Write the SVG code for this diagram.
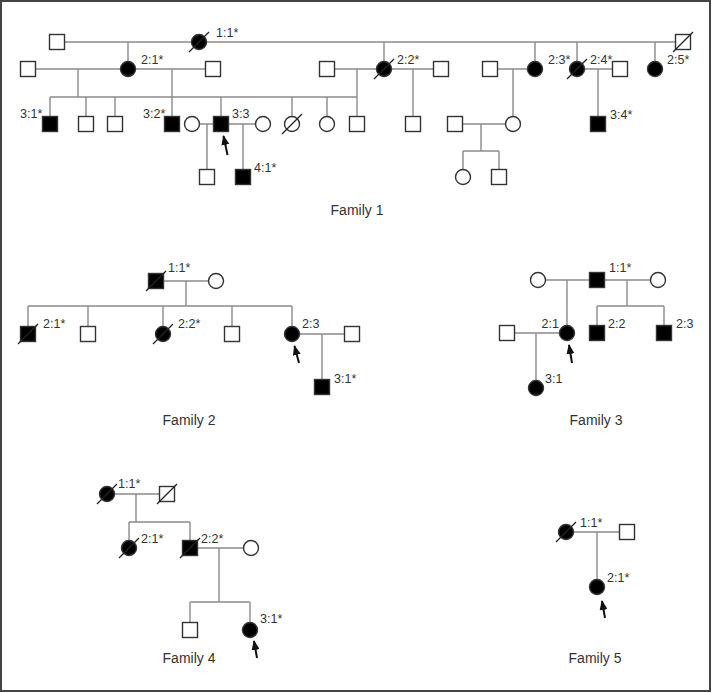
<svg xmlns="http://www.w3.org/2000/svg" width="712" height="693" viewBox="0 0 712 693">
<style>
.ln{stroke:#8c8c8c;stroke-width:1.4;fill:none}
.s{stroke:#333;stroke-width:1.4}
.a{fill:#000}
.u{fill:#fff}
.sl{stroke:#222;stroke-width:1.2}
.ar{stroke:#111;stroke-width:2;fill:none}
text{font-family:"Liberation Sans",Arial,sans-serif;font-size:12.5px;fill:#333}
.fam{font-size:14px;text-anchor:middle}
</style>
<defs>
<marker id="ah" markerUnits="userSpaceOnUse" markerWidth="10" markerHeight="8" refX="9" refY="4" orient="auto">
<path d="M0,0 L10,4 L0,8 z" fill="#111"/>
</marker>
</defs>
<rect x="1" y="1" width="709" height="690" fill="#fff" stroke="#444" stroke-width="2"/>

<g id="connectors">
<!-- Family 1 -->
<path class="ln" d="M64,42 H676 M128,42 V61 M384,42 V61 M535,42 V61 M577,42 V61 M655,42 V61"/>
<path class="ln" d="M28,69 H213 M78,69 V97 M172,69 V117 M50,97 H357 M50,97 V117 M86,97 V117 M115,97 V117 M221,97 V117 M292,97 V117 M327,97 V117 M357,97 V117"/>
<path class="ln" d="M327,69 H441 M357,69 V97 M413,69 V117 M490,69 H535 M513,69 V117 M577,69 H620 M598,69 V117"/>
<path class="ln" d="M192,124 H263 M207,124 V170 M243,124 V170 M455,124 H513 M481,124 V151 M463,151 H499 M463,151 V170 M499,151 V170"/>
<!-- Family 2 -->
<path class="ln" d="M156,281 H216 M186,281 V306 M28,306 H292 M28,306 V327 M88,306 V327 M163,306 V327 M232,306 V327 M292,306 V327 M292,334 H352 M322,334 V380"/>
<!-- Family 3 -->
<path class="ln" d="M538,280 H658 M567,280 V326 M627,280 V306 M597,306 H664 M597,306 V326 M664,306 V326 M507,333 H567 M536,333 V381"/>
<!-- Family 4 -->
<path class="ln" d="M107,494 H167 M136,494 V522 M129,522 H190 M129,522 V541 M190,522 V541 M190,548 H251 M219,548 V602 M190,602 H250 M190,602 V623 M250,602 V623"/>
<!-- Family 5 -->
<path class="ln" d="M566,532 H627 M597,532 V580"/>
<!-- proband arrows -->
<line class="ar" x1="227.5" y1="155" x2="223.5" y2="136" marker-end="url(#ah)"/>
<line class="ar" x1="299" y1="363" x2="294.5" y2="346" marker-end="url(#ah)"/>
<line class="ar" x1="572" y1="363" x2="569" y2="345" marker-end="url(#ah)"/>
<line class="ar" x1="257" y1="658" x2="254" y2="641" marker-end="url(#ah)"/>
<line class="ar" x1="605" y1="618" x2="602" y2="601" marker-end="url(#ah)"/>
</g>

<!-- ========== Family 1 ========== -->
<g id="f1-I-a"><rect class="s u" x="49.5" y="34.5" width="15" height="15"/></g>
<g id="f1-1-1"><circle class="s a" cx="199" cy="42" r="7.5"/><line class="sl" x1="189" y1="52" x2="209" y2="32"/><text x="216" y="37">1:1*</text></g>
<g id="f1-2-5m"><rect class="s u" x="675.5" y="34.5" width="15" height="15"/><line class="sl" x1="673" y1="52" x2="693" y2="32"/></g>

<g id="f1-II-a"><rect class="s u" x="20.5" y="61.5" width="15" height="15"/></g>
<g id="f1-2-1"><circle class="s a" cx="128" cy="69" r="7.5"/><text x="141" y="64">2:1*</text></g>
<g id="f1-II-b"><rect class="s u" x="205.5" y="61.5" width="15" height="15"/></g>
<g id="f1-II-c"><rect class="s u" x="319.5" y="61.5" width="15" height="15"/></g>
<g id="f1-2-2"><circle class="s a" cx="384" cy="69" r="7.5"/><line class="sl" x1="374" y1="79" x2="394" y2="59"/><text x="397" y="64">2:2*</text></g>
<g id="f1-II-d"><rect class="s u" x="433.5" y="61.5" width="15" height="15"/></g>
<g id="f1-II-e"><rect class="s u" x="482.5" y="61.5" width="15" height="15"/></g>
<g id="f1-2-3"><circle class="s a" cx="535" cy="69" r="7.5"/><text x="548" y="64">2:3*</text></g>
<g id="f1-2-4"><circle class="s a" cx="577" cy="69" r="7.5"/><line class="sl" x1="567" y1="79" x2="587" y2="59"/><text x="590" y="64">2:4*</text></g>
<g id="f1-II-f"><rect class="s u" x="612.5" y="61.5" width="15" height="15"/></g>
<g id="f1-2-5"><circle class="s a" cx="655" cy="69" r="7.5"/><text x="667" y="64">2:5*</text></g>

<g id="f1-3-1"><rect class="s a" x="42.5" y="116.5" width="15" height="15"/><text x="20" y="118">3:1*</text></g>
<g id="f1-III-a"><rect class="s u" x="78.5" y="116.5" width="15" height="15"/></g>
<g id="f1-III-b"><rect class="s u" x="107.5" y="116.5" width="15" height="15"/></g>
<g id="f1-3-2"><rect class="s a" x="164.5" y="116.5" width="15" height="15"/><text x="143" y="118">3:2*</text></g>
<g id="f1-III-c"><circle class="s u" cx="192" cy="124" r="7.5"/></g>
<g id="f1-3-3"><rect class="s a" x="213.5" y="116.5" width="15" height="15"/><text x="232" y="118">3:3</text></g>
<g id="f1-III-d"><circle class="s u" cx="263" cy="124" r="7.5"/></g>
<g id="f1-III-e"><circle class="s u" cx="292" cy="124" r="7.5"/><line class="sl" x1="282" y1="134" x2="302" y2="114"/></g>
<g id="f1-III-f"><circle class="s u" cx="327" cy="124" r="7.5"/></g>
<g id="f1-III-g"><rect class="s u" x="349.5" y="116.5" width="15" height="15"/></g>
<g id="f1-III-h"><rect class="s u" x="405.5" y="116.5" width="15" height="15"/></g>
<g id="f1-III-i"><rect class="s u" x="447.5" y="116.5" width="15" height="15"/></g>
<g id="f1-III-j"><circle class="s u" cx="513" cy="124" r="7.5"/></g>
<g id="f1-3-4"><rect class="s a" x="590.5" y="116.5" width="15" height="15"/><text x="610" y="119">3:4*</text></g>

<g id="f1-IV-a"><rect class="s u" x="199.5" y="169.5" width="15" height="15"/></g>
<g id="f1-4-1"><rect class="s a" x="235.5" y="169.5" width="15" height="15"/><text x="254" y="172">4:1*</text></g>
<g id="f1-IV-b"><circle class="s u" cx="463" cy="177" r="7.5"/></g>
<g id="f1-IV-c"><rect class="s u" x="491.5" y="169.5" width="15" height="15"/></g>
<text class="fam" x="357" y="215">Family 1</text>

<!-- ========== Family 2 ========== -->
<g id="f2-1-1"><rect class="s a" x="148.5" y="273.5" width="15" height="15"/><line class="sl" x1="146" y1="291" x2="166" y2="271"/><text x="168" y="272">1:1*</text></g>
<g id="f2-I-a"><circle class="s u" cx="216" cy="281" r="7.5"/></g>
<g id="f2-2-1"><rect class="s a" x="20.5" y="326.5" width="15" height="15"/><line class="sl" x1="18" y1="344" x2="38" y2="324"/><text x="43" y="328">2:1*</text></g>
<g id="f2-II-a"><rect class="s u" x="80.5" y="326.5" width="15" height="15"/></g>
<g id="f2-2-2"><circle class="s a" cx="163" cy="334" r="7.5"/><line class="sl" x1="153" y1="344" x2="173" y2="324"/><text x="178" y="328">2:2*</text></g>
<g id="f2-II-b"><rect class="s u" x="224.5" y="326.5" width="15" height="15"/></g>
<g id="f2-2-3"><circle class="s a" cx="292" cy="334" r="7.5"/><text x="302" y="328">2:3</text></g>
<g id="f2-II-c"><rect class="s u" x="344.5" y="326.5" width="15" height="15"/></g>
<g id="f2-3-1"><rect class="s a" x="314.5" y="379.5" width="15" height="15"/><text x="334" y="383">3:1*</text></g>
<text class="fam" x="189" y="425">Family 2</text>

<!-- ========== Family 3 ========== -->
<g id="f3-I-a"><circle class="s u" cx="538" cy="280" r="7.5"/></g>
<g id="f3-1-1"><rect class="s a" x="589.5" y="272.5" width="15" height="15"/><text x="609" y="272">1:1*</text></g>
<g id="f3-I-b"><circle class="s u" cx="658" cy="280" r="7.5"/></g>
<g id="f3-II-a"><rect class="s u" x="499.5" y="325.5" width="15" height="15"/></g>
<g id="f3-2-1"><circle class="s a" cx="567" cy="333" r="7.5"/><text x="559" y="328" text-anchor="end">2:1</text></g>
<g id="f3-2-2"><rect class="s a" x="589.5" y="325.5" width="15" height="15"/><text x="608" y="328">2:2</text></g>
<g id="f3-2-3"><rect class="s a" x="656.5" y="325.5" width="15" height="15"/><text x="676" y="328">2:3</text></g>
<g id="f3-3-1"><circle class="s a" cx="536" cy="388" r="7.5"/><text x="545" y="383">3:1</text></g>
<text class="fam" x="596" y="425">Family 3</text>

<!-- ========== Family 4 ========== -->
<g id="f4-1-1"><circle class="s a" cx="107" cy="494" r="7.5"/><line class="sl" x1="97" y1="504" x2="117" y2="484"/><text x="118" y="488">1:1*</text></g>
<g id="f4-I-a"><rect class="s u" x="159.5" y="486.5" width="15" height="15"/><line class="sl" x1="157" y1="504" x2="177" y2="484"/></g>
<g id="f4-2-1"><circle class="s a" cx="129" cy="548" r="7.5"/><line class="sl" x1="119" y1="558" x2="139" y2="538"/><text x="141" y="543">2:1*</text></g>
<g id="f4-2-2"><rect class="s a" x="182.5" y="540.5" width="15" height="15"/><line class="sl" x1="180" y1="558" x2="200" y2="538"/><text x="201" y="543">2:2*</text></g>
<g id="f4-II-a"><circle class="s u" cx="251" cy="548" r="7.5"/></g>
<g id="f4-III-a"><rect class="s u" x="182.5" y="622.5" width="15" height="15"/></g>
<g id="f4-3-1"><circle class="s a" cx="250" cy="630" r="7.5"/><text x="260" y="623">3:1*</text></g>
<text class="fam" x="189" y="663">Family 4</text>

<!-- ========== Family 5 ========== -->
<g id="f5-1-1"><circle class="s a" cx="566" cy="532" r="7.5"/><line class="sl" x1="556" y1="542" x2="576" y2="522"/><text x="580" y="527">1:1*</text></g>
<g id="f5-I-a"><rect class="s u" x="619.5" y="524.5" width="15" height="15"/></g>
<g id="f5-2-1"><circle class="s a" cx="597" cy="587" r="7.5"/><text x="607" y="582">2:1*</text></g>
<text class="fam" x="595" y="663">Family 5</text>
</svg>
